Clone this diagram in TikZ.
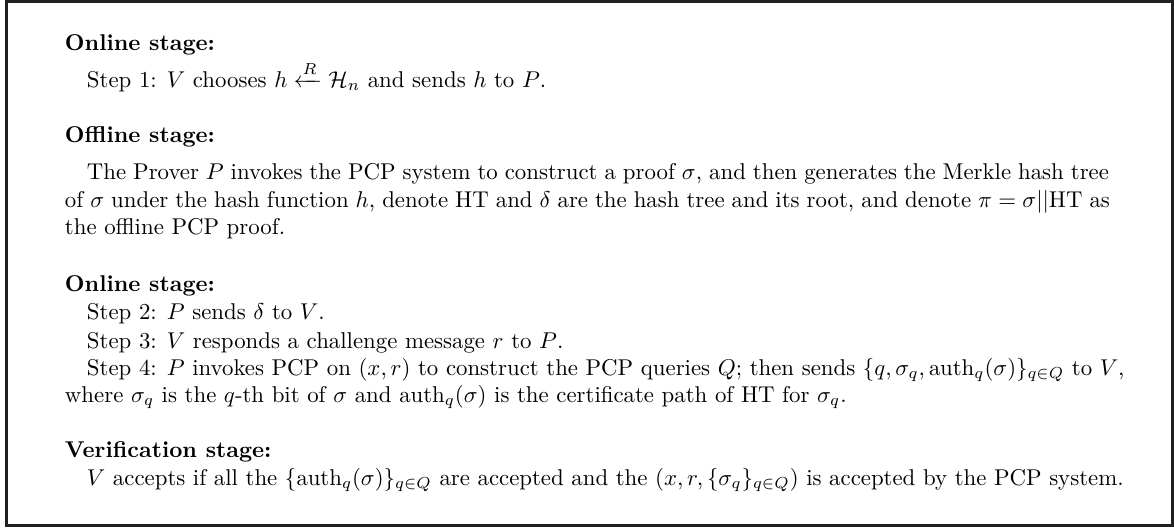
\documentclass[tikz,border=0pt]{standalone}
\usepackage{amsmath}
\newlength\pxu
\setlength\pxu{0.4380pt}
\tikzset{
  txt/.style={anchor=base west, inner sep=0pt, outer sep=0pt},
  frame/.style={draw=black!88, line width=3\pxu}
}
\begin{document}
\begin{tikzpicture}[x=\pxu, y=-\pxu]
  \useasboundingbox[fill=white] (0,0) rectangle (1174,527);
  \draw[frame] (6.5,1.5) rectangle (1172.5,525.5);

  \node[txt] (h1) at (65,50) {\textbf{Online stage:}};
  \node[txt] (s1) at (87,87) {Step 1: $V$ chooses $h \xleftarrow{R} \mathcal{H}_n$ and sends $h$ to $P$.};

  \node[txt] (h2) at (65,142) {\textbf{Offline stage:}};
  \node[txt] (p1) at (87,179) {\makebox[1022\pxu][s]{The Prover $P$ invokes the PCP system to construct a proof $\sigma$, and then generates the Merkle hash tree}};
  \node[txt] (p2) at (65,207) {\makebox[1045\pxu][s]{of $\sigma$ under the hash function $h$, denote HT and $\delta$ are the hash tree and its root, and denote $\pi=\sigma||\mathrm{HT}$ as}};
  \node[txt] (p3) at (65,234) {the offline PCP proof.};

  \node[txt] (h3) at (65,291) {\textbf{Online stage:}};
  \node[txt] (s2) at (87,319) {Step 2: $P$ sends $\delta$ to $V$.};
  \node[txt] (s3) at (87,348) {Step 3: $V$ responds a challenge message $r$ to $P$.};
  \node[txt] (s4) at (87,375) {Step 4: $P$ invokes PCP on $(x,r)$ to construct the PCP queries $Q$; then sends $\{q,\sigma_q,\mathrm{auth}_q(\sigma)\}_{q\in Q}$ to $V$,};
  \node[txt] (s4b) at (65,402) {where $\sigma_q$ is the $q$-th bit of $\sigma$ and $\mathrm{auth}_q(\sigma)$ is the certificate path of HT for $\sigma_q$.};

  \node[txt] (h4) at (65,457) {\textbf{Verification stage:}};
  \node[txt] (v1) at (87,485) {$V$ accepts if all the $\{\mathrm{auth}_q(\sigma)\}_{q\in Q}$ are accepted and the $(x,r,\{\sigma_q\}_{q\in Q})$ is accepted by the PCP system.};
\end{tikzpicture}
\end{document}
